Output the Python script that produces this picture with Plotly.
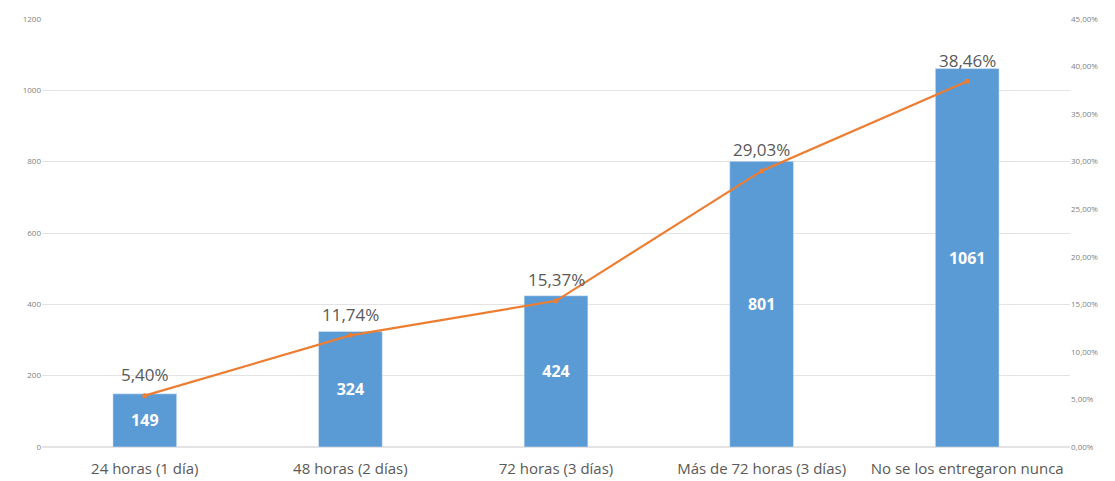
import plotly.graph_objects as go

categories = ["24 horas (1 día)", "48 horas (2 días)", "72 horas (3 días)",
              "Más de 72 horas (3 días)", "No se los entregaron nunca"]
counts = [149, 324, 424, 801, 1061]
percents = [5.40, 11.74, 15.37, 29.03, 38.46]
pct_labels = ["5,40%", "11,74%", "15,37%", "29,03%", "38,46%"]

fig = go.Figure()
fig.add_trace(go.Bar(
    x=categories, y=counts, marker_color="#5B9BD5", width=0.31,
    text=[str(c) for c in counts], textposition="inside", insidetextanchor="middle",
    textfont=dict(color="white", size=16, family="Open Sans", weight="bold"),
    hoverinfo="skip", showlegend=False,
))
fig.add_trace(go.Scatter(
    x=categories, y=[p / 100 for p in percents], yaxis="y2", mode="lines+markers",
    line=dict(color="#ED7D31", width=2.2), marker=dict(size=5, color="#ED7D31"),
    showlegend=False,
))
for cat, p, lab in zip(categories, percents, pct_labels):
    fig.add_annotation(x=cat, y=p / 100, xref="x", yref="y2", text=lab,
                       showarrow=False, yshift=21,
                       font=dict(color="#595959", size=17, family="Open Sans"))

fig.update_layout(
    width=1107, height=473, margin=dict(l=34, r=45, t=11, b=34),
    paper_bgcolor="white", plot_bgcolor="white",
    separators=",.",
    font=dict(family="Open Sans", color="#595959"),
    xaxis=dict(tickfont=dict(size=15, color="#595959"), showline=False,
               ticks="outside", ticklen=8, tickcolor="rgba(0,0,0,0)", automargin=False),
    yaxis=dict(range=[0, 1200], dtick=200, showgrid=True, gridcolor="#E3E3E3",
               tickfont=dict(size=8, color="#7F7F7F"), zeroline=True,
               zerolinecolor="#E3E3E3", automargin=False),
    yaxis2=dict(range=[0, 0.45], dtick=0.05, overlaying="y", side="right",
                showgrid=False, tickformat=".2%", zeroline=False, automargin=False,
                tickfont=dict(size=8, color="#7F7F7F")),
)
fig.write_html("out.html")
